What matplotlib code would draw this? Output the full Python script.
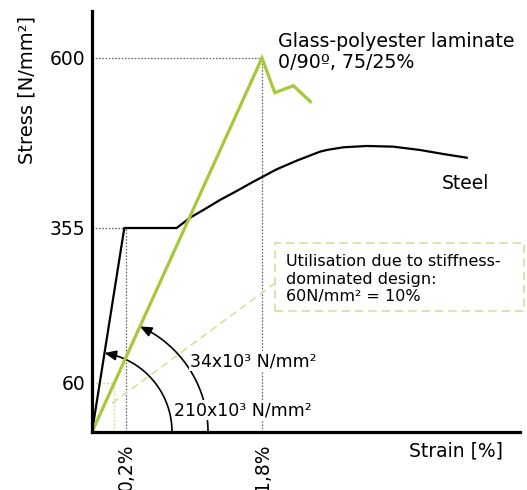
import numpy as np
import matplotlib
matplotlib.use("Agg")
import matplotlib.pyplot as plt
from matplotlib.transforms import IdentityTransform
from matplotlib.patches import Rectangle

# ---------------- data ----------------
steel_strain = [0, 0.19, 0.796, 0.953, 1.109, 1.306, 1.502, 1.698, 1.973, 2.208,
                2.482, 2.561, 2.756, 3.032, 3.345, 3.659, 3.933, 4.208]
steel_stress = [0, 355, 355, 369.8, 380.9, 395.4, 408.3, 421.7, 439.6, 452.0,
                465.0, 467.4, 471.3, 473.2, 472.2, 467.4, 461.6, 456.3]

glass_strain = [0, 1.80, 1.95, 2.17, 2.37]
glass_stress = [0, 600, 550, 560, 537]

y_ticks = [60, 355, 600]
y_tick_labels = ["60", "355", "600"]
x_ticks = [0.2, 1.8]
x_tick_labels = ["0,2%", "1,8%"]

glass_design_strain = 0.13
glass_design_stress = 60
steel_yield_strain = 0.2
steel_yield_stress = 355
glass_fail_strain = 1.8
glass_fail_stress = 600

# schematic (piecewise linear) axis scales
x_breaks = [-1, 0, 0.2, 1.8, 10]
x_disp = [-170, 0, 34, 170, 867]
y_breaks = [-100, 0, 60, 355, 600, 1000]
y_disp = [-82, 0, 49, 204, 374, 651.6]

GREEN = "#a6c83a"
PALE = "#cfe09a"
GRAY = "#666666"

W, H = 527, 490
fig = plt.figure(figsize=(W / 100, H / 100), dpi=100)
ax = fig.add_axes([92 / W, 58 / H, 428 / W, 421 / H])

ax.set_xscale("function", functions=(lambda v: np.interp(v, x_breaks, x_disp),
                                     lambda v: np.interp(v, x_disp, x_breaks)))
ax.set_yscale("function", functions=(lambda v: np.interp(v, y_breaks, y_disp),
                                     lambda v: np.interp(v, y_disp, y_breaks)))
ax.set_xlim(0, 4.835)
ax.set_ylim(0, 667.7)

for s in ("top", "right"):
    ax.spines[s].set_visible(False)
for s in ("left", "bottom"):
    ax.spines[s].set_linewidth(2.3)
    ax.spines[s].set_zorder(8)

dot = (0, (1.3, 1.3))
# gray guide lines
ax.plot([0, glass_fail_strain], [glass_fail_stress, glass_fail_stress], color=GRAY, lw=0.9, ls=dot, zorder=2)
ax.plot([glass_fail_strain, glass_fail_strain], [0, glass_fail_stress], color=GRAY, lw=0.9, ls=dot, zorder=2)
ax.plot([0, steel_yield_strain], [steel_yield_stress, steel_yield_stress], color=GRAY, lw=0.9, ls=dot, zorder=2)
ax.plot([steel_yield_strain, steel_yield_strain], [0, steel_yield_stress], color=GRAY, lw=0.9, ls=dot, zorder=2)
# pale guide lines at 60
ax.plot([0, glass_design_strain], [glass_design_stress, glass_design_stress], color=PALE, lw=1.0, ls=dot, zorder=2)
ax.plot([glass_design_strain, glass_design_strain], [0, glass_design_stress], color=PALE, lw=1.0, ls=dot, zorder=2)
# leader line to box
ax.plot([0.118, 1.953], [35, 250], color=PALE, lw=1.1, ls=(0, (5, 3)), clip_on=False, zorder=7)

# curves
ax.plot(steel_strain, steel_stress, color="black", lw=1.6, solid_joinstyle="round", zorder=4)
ax.plot(glass_strain, glass_stress, color=GREEN, lw=2.3, solid_joinstyle="miter", zorder=5)

ax.set_yticks(y_ticks)
ax.set_yticklabels(y_tick_labels)
ax.set_xticks(x_ticks)
ax.set_xticklabels(x_tick_labels, rotation=90, va="top", ha="center")
ax.tick_params(axis="both", length=0, labelsize=13.5)
ax.tick_params(axis="y", pad=5)
ax.tick_params(axis="x", pad=8)
ax.minorticks_off()

# ---------- stiffness arcs (drawn in display pixels) ----------
fig.canvas.draw()
o = ax.transData.transform((0, 0))


def stiff_arc(pt, r):
    p = ax.transData.transform(pt) - o
    th_end = np.arctan2(p[1], p[0])
    th = np.linspace(0, th_end - 0.06, 80)
    xs = o[0] + r * np.cos(th)
    ys = o[1] + r * np.sin(th)
    ax.plot(xs, ys, transform=IdentityTransform(), color="black", lw=1.2, clip_on=False, zorder=3)
    tip = (o[0] + r * np.cos(th_end), o[1] + r * np.sin(th_end))
    prev = (o[0] + r * np.cos(th_end - 0.1), o[1] + r * np.sin(th_end - 0.1))
    ax.annotate("", xy=tip, xycoords="figure pixels", xytext=prev, textcoords="figure pixels",
                arrowprops=dict(arrowstyle="-|>,head_length=0.7,head_width=0.3", color="black",
                                lw=1.2, shrinkA=0, shrinkB=0), zorder=3)


stiff_arc((steel_yield_strain * 0.95, steel_yield_stress), 80)
stiff_arc((glass_fail_strain, glass_fail_stress), 116)


def P(x, y):
    return x / W, 1 - y / H


wb = dict(facecolor="white", edgecolor="none", pad=0.8)
ax.text(*P(190, 361), "34x10³ N/mm²", fontsize=12.5, va="center", ha="left", bbox=wb, zorder=6,
        transform=fig.transFigure)
ax.text(*P(174, 410), "210x10³ N/mm²", fontsize=12.5, va="center", ha="left", bbox=wb, zorder=6,
        transform=fig.transFigure, clip_on=False)

fig.text(*P(278, 52), "Glass-polyester laminate\n0/90º, 75/25%", fontsize=13.7, va="center", ha="left",
         linespacing=1.1)
fig.text(*P(442, 183), "Steel", fontsize=13.5, va="center", ha="left")
fig.text(*P(409, 451), "Strain [%]", fontsize=13.5, va="center", ha="left")
fig.text(*P(27, 90), "Stress [N/mm²]", fontsize=14, va="center", ha="center", rotation=90)

fig.add_artist(Rectangle(P(275, 311), 249 / W, 68 / H, transform=fig.transFigure, fill=False,
                         edgecolor=PALE, lw=1.2, ls=(0, (5, 3))))
fig.text(*P(286, 279), "Utilisation due to stiffness-\ndominated design:\n60N/mm² = 10%",
         fontsize=11.5, va="center", ha="left", linespacing=1.2)

fig.savefig("out.png", dpi=100)
